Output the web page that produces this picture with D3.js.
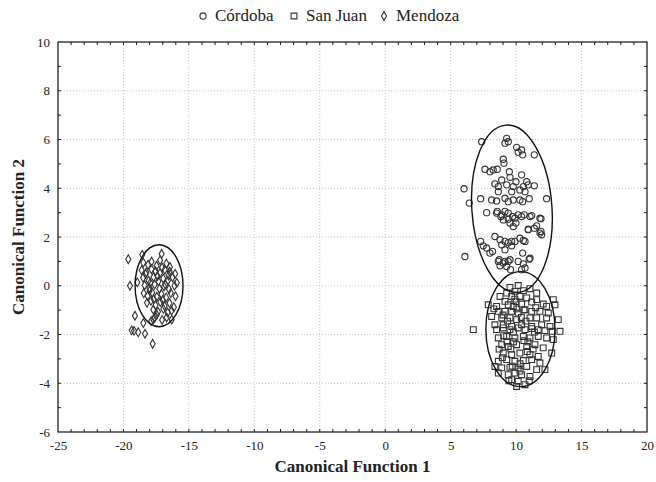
<!DOCTYPE html>
<html>
<head>
<meta charset="utf-8">
<script src="https://cdn.jsdelivr.net/npm/d3@7/dist/d3.min.js"></script>
<style>
  html, body { margin: 0; padding: 0; background: #fff; }
  svg { display: block; }
  text { font-family: "Liberation Serif", "Times New Roman", serif; }
</style>
</head>
<body>
<svg id="chart" width="656" height="482"></svg>
<script>
// Discriminant scores per province (Canonical Function 1, Canonical Function 2)
const cordoba = [
  [7.37,5.91],[9.28,6.05],[9.40,5.91],[9.15,5.85],[10.04,5.68],[10.42,5.57],[10.16,5.48],[10.50,5.37],[11.39,5.37],
  [9.02,5.19],[9.07,5.03],[7.62,4.78],[8.00,4.68],[8.25,4.75],[8.56,4.78],[9.48,4.68],[10.42,4.55],[8.90,4.34],
  [9.53,4.45],[9.99,4.27],[10.81,4.27],[10.93,4.14],[8.38,4.18],[8.64,4.07],[9.28,4.14],[9.78,4.07],[10.55,4.07],
  [11.39,4.10],[6.02,3.98],[8.64,3.86],[9.66,3.86],[10.29,3.93],[10.68,3.86],[7.29,3.57],[8.13,3.52],[8.51,3.48],
  [9.15,3.59],[9.40,3.45],[9.78,3.52],[10.29,3.52],[10.50,3.45],[11.00,3.57],[6.42,3.39],[12.33,3.57],[7.75,3.00],
  [8.56,3.05],[8.84,2.84],[9.40,2.98],[9.73,2.84],[10.16,2.91],[10.62,2.91],[11.06,2.84],[11.82,2.77],[9.02,2.70],
  [9.40,2.73],[9.53,2.57],[9.78,2.43],[9.99,2.57],[10.93,2.32],[11.39,2.36],[11.57,2.46],[11.90,2.23],[11.95,2.09],
  [8.38,2.02],[8.77,1.89],[7.29,1.82],[7.49,1.64],[7.75,1.55],[8.00,1.34],[8.20,1.41],[8.90,1.68],[9.40,1.77],
  [9.91,1.82],[10.29,1.95],[10.55,1.86],[9.66,1.64],[9.15,1.48],[6.09,1.20],[8.71,1.07],[9.15,1.00],[9.53,1.07],
  [8.77,0.82],[9.28,0.79],[10.16,1.00],[10.55,0.90],[11.00,1.09],[10.42,0.66],[10.68,0.73],[9.58,0.66],[10.50,1.34],
  [8.51,2.98],[8.90,2.91],[9.15,3.05],[9.91,2.77],[10.42,2.84],[11.19,2.88],[11.90,2.75],[9.15,1.82],[9.66,1.82],
  [10.68,1.82],[9.02,0.93],[9.40,1.00],[11.06,1.13],[11.82,2.16],[10.93,2.30],[8.64,1.00]
];

const sanJuan = [
  [9.53,-0.07],[10.16,0.01],[9.91,-0.23],[10.55,-0.20],[11.06,-0.12],[11.57,-0.30],[9.66,-0.44],[10.29,-0.44],
  [10.81,-0.50],[8.77,-0.44],[9.15,-0.64],[7.87,-0.78],[8.51,-0.85],[9.40,-0.78],[9.78,-0.85],[10.42,-0.75],
  [11.19,-0.67],[11.57,-0.57],[12.07,-0.75],[12.84,-0.57],[12.33,-0.85],[12.97,-0.78],[8.64,-1.05],[9.15,-1.05],
  [9.66,-1.05],[10.16,-1.12],[10.68,-0.98],[11.19,-1.05],[11.82,-1.05],[12.46,-1.12],[8.13,-1.26],[8.90,-1.32],
  [9.53,-1.32],[10.04,-1.39],[11.06,-1.32],[11.57,-1.32],[12.33,-1.32],[13.22,-1.39],[8.38,-1.60],[9.02,-1.60],
  [9.66,-1.67],[10.42,-1.60],[11.19,-1.67],[11.95,-1.60],[12.59,-1.67],[6.73,-1.80],[8.51,-1.80],[9.02,-1.73],
  [9.53,-1.80],[10.16,-1.73],[10.68,-1.80],[11.19,-1.76],[11.69,-1.80],[12.20,-1.84],[12.76,-1.87],[13.35,-1.87],
  [8.64,-2.14],[9.28,-2.08],[9.91,-2.14],[10.55,-2.08],[11.06,-2.14],[11.69,-2.08],[12.33,-2.14],[12.84,-2.21],
  [8.90,-2.42],[9.40,-2.49],[10.04,-2.42],[10.81,-2.49],[11.44,-2.42],[12.07,-2.55],[12.72,-2.76],[9.02,-2.76],
  [9.66,-2.83],[10.29,-2.76],[11.06,-2.83],[11.69,-2.90],[8.64,-3.10],[9.28,-3.03],[9.91,-3.10],[10.55,-3.07],
  [11.19,-3.03],[11.82,-3.17],[8.38,-3.31],[8.90,-3.37],[9.53,-3.35],[10.16,-3.37],[10.81,-3.31],[11.57,-3.44],
  [8.64,-3.58],[9.40,-3.65],[9.91,-3.58],[10.42,-3.65],[11.06,-3.72],[12.20,-3.44],[9.66,-3.85],[10.16,-3.92],
  [10.68,-4.06],[10.04,-4.13],[9.28,-0.30],[10.00,-0.65],[9.00,-1.20],[10.40,-1.30],[9.80,-1.90],[10.90,-2.30],
  [9.60,-2.60],[10.30,-3.20],[9.30,-2.30],[11.30,-2.60],[8.70,-2.60],[10.60,-1.00],[9.90,-0.55],[8.30,-0.95],
  [9.45,-3.90],[10.30,-3.50],[11.00,-3.90],[8.95,-2.95],[9.80,-2.30],[10.60,-2.25],[10.05,-0.95],[9.35,-1.45],
  [10.75,-1.45],[11.40,-1.90],[9.70,-3.30],[10.85,-2.70],[11.50,-0.90],[9.05,-2.05]
];

const mendoza = [
  [-19.63,1.09],[-18.56,1.27],[-17.08,1.31],[-19.50,0.00],[-18.94,0.14],[-19.12,-1.23],[-18.48,-1.53],
  [-19.37,-1.83],[-19.19,-1.85],[-18.87,-1.91],[-18.35,-1.97],[-17.77,-2.38],[-16.31,-1.39],[-17.72,-1.39],
  [-17.46,-1.19],[-18.48,0.95],[-18.12,0.86],[-17.85,0.99],[-17.47,0.82],[-16.72,0.91],[-16.45,0.77],
  [-17.20,1.05],[-18.61,0.64],[-18.25,0.55],[-17.86,0.68],[-17.55,0.60],[-17.21,0.52],[-16.84,0.66],
  [-16.47,0.58],[-16.05,0.49],[-18.50,0.33],[-18.08,0.21],[-17.70,0.36],[-17.33,0.18],[-16.96,0.30],
  [-16.60,0.22],[-16.25,0.35],[-15.92,0.12],[-18.38,0.02],[-18.02,-0.09],[-17.62,0.05],[-17.25,-0.12],
  [-16.90,-0.03],[-16.52,-0.14],[-16.10,0.00],[-18.45,-0.31],[-18.15,-0.42],[-17.80,-0.28],[-17.45,-0.45],
  [-17.10,-0.34],[-16.74,-0.48],[-16.38,-0.30],[-16.02,-0.43],[-18.20,-0.70],[-17.90,-0.62],[-17.55,-0.80],
  [-17.18,-0.67],[-16.85,-0.83],[-16.48,-0.71],[-16.15,-0.88],[-17.72,-0.98],[-17.36,-1.07],[-16.95,-0.95],
  [-16.62,-1.10],[-16.32,-1.02],[-17.60,-1.30],[-17.88,-1.45],[-17.05,-1.40],[-16.70,-1.30],[-18.30,0.48],
  [-17.95,0.12],[-17.40,0.40],[-17.05,0.75],[-16.80,0.05],[-17.68,-0.55],[-17.00,-0.58],[-16.55,0.42],
  [-18.00,-0.20]
];

// 95% confidence ellipses: centre, semi-axes (data units), tilt in degrees
const ellipseCentres = [[9.68, 3.16], [10.33, -1.78], [-17.28, 0.0]];
const ellipseRadii = [[3.06, 3.44], [2.64, 2.36], [1.83, 1.68]];
const ellipseTilt = [-4, 0, 0];

const groupNames = ["Córdoba", "San Juan", "Mendoza"];
const xTicks = [-25, -20, -15, -10, -5, 0, 5, 10, 15, 20];
const yTicks = [-6, -4, -2, 0, 2, 4, 6, 8, 10];

const W = 656, H = 482;
const margin = { top: 42, right: 9, bottom: 50, left: 58 };
const svg = d3.select("#chart");

const x = d3.scaleLinear().domain([-25, 20]).range([margin.left, W - margin.right]);
const y = d3.scaleLinear().domain([-6, 10]).range([H - margin.bottom, margin.top]);

// dotted grid
const grid = svg.append("g");
grid.selectAll("line.gx").data(xTicks.slice(1, -1)).join("line")
  .attr("x1", d => x(d)).attr("x2", d => x(d))
  .attr("y1", y(10)).attr("y2", y(-6))
  .attr("stroke", "#c4c4c4").attr("stroke-dasharray", "1,2").attr("stroke-width", 1);
grid.selectAll("line.gy").data(yTicks.slice(1, -1)).join("line")
  .attr("y1", d => y(d)).attr("y2", d => y(d))
  .attr("x1", x(-25)).attr("x2", x(20))
  .attr("stroke", "#c4c4c4").attr("stroke-dasharray", "1,2").attr("stroke-width", 1);

// axes: labels outside, inward ticks on all four sides
const fmt = d => String(d);
const xAxis = svg.append("g").attr("transform", `translate(0,${y(-6)})`)
  .call(d3.axisBottom(x).tickValues(xTicks).tickFormat(fmt).tickSize(0).tickPadding(9));
const yAxis = svg.append("g").attr("transform", `translate(${x(-25)},0)`)
  .call(d3.axisLeft(y).tickValues(yTicks).tickFormat(fmt).tickSize(0).tickPadding(8));
[xAxis, yAxis].forEach(a => {
  a.select(".domain").remove();
  a.selectAll("text").attr("font-family", "Liberation Serif, serif")
    .attr("font-size", 13).attr("fill", "#222");
});

const minorX = d3.range(-24, 20, 1);
const minorY = d3.range(-5, 10, 1);
const tickLen = 3;
const ticks = svg.append("g").attr("stroke", "#222").attr("stroke-width", 1);
minorX.forEach(v => {
  ticks.append("line").attr("x1", x(v)).attr("x2", x(v)).attr("y1", y(-6)).attr("y2", y(-6) - tickLen);
  ticks.append("line").attr("x1", x(v)).attr("x2", x(v)).attr("y1", y(10)).attr("y2", y(10) + tickLen);
});
minorY.forEach(v => {
  ticks.append("line").attr("y1", y(v)).attr("y2", y(v)).attr("x1", x(-25)).attr("x2", x(-25) + tickLen);
  ticks.append("line").attr("y1", y(v)).attr("y2", y(v)).attr("x1", x(20)).attr("x2", x(20) - tickLen);
});

// frame
svg.append("rect")
  .attr("x", x(-25)).attr("y", y(10))
  .attr("width", x(20) - x(-25)).attr("height", y(-6) - y(10))
  .attr("fill", "none").attr("stroke", "#111").attr("stroke-width", 1.2);

// markers
const symCircle = d3.symbol().type(d3.symbolCircle).size(30);
const symSquare = d3.symbol().type(d3.symbolSquare).size(34);
const symDiamond = d3.symbol().type(d3.symbolDiamond).size(22);
const groups = [
  { data: cordoba, sym: symCircle },
  { data: sanJuan, sym: symSquare },
  { data: mendoza, sym: symDiamond }
];
groups.forEach(g => {
  svg.append("g").selectAll("path").data(g.data).join("path")
    .attr("d", g.sym)
    .attr("transform", d => `translate(${x(d[0])},${y(d[1])})`)
    .attr("fill", "none").attr("stroke", "#333").attr("stroke-width", 1.1);
});

// confidence ellipses
svg.append("g").selectAll("ellipse").data(ellipseCentres).join("ellipse")
  .attr("cx", 0).attr("cy", 0)
  .attr("rx", (d, i) => x(d[0] + ellipseRadii[i][0]) - x(d[0]))
  .attr("ry", (d, i) => y(d[1]) - y(d[1] + ellipseRadii[i][1]))
  .attr("transform", (d, i) => `translate(${x(d[0])},${y(d[1])}) rotate(${ellipseTilt[i]})`)
  .attr("fill", "none").attr("stroke", "#111").attr("stroke-width", 1.4);

// axis titles
svg.append("text")
  .attr("x", (x(-25) + x(20)) / 2).attr("y", 472)
  .attr("text-anchor", "middle").attr("font-size", 17).attr("font-weight", "bold").attr("fill", "#222")
  .text("Canonical Function 1");
svg.append("text")
  .attr("transform", `translate(24,${(y(-6) + y(10)) / 2}) rotate(-90)`)
  .attr("text-anchor", "middle").attr("font-size", 17).attr("font-weight", "bold").attr("fill", "#222")
  .text("Canonical Function 2");

// legend
const legend = svg.append("g");
const legendSyms = [symCircle, symSquare, symDiamond];
const legendX = [203, 294, 384];
groupNames.forEach((name, i) => {
  legend.append("path").attr("d", legendSyms[i])
    .attr("transform", `translate(${legendX[i]},16)`)
    .attr("fill", "none").attr("stroke", "#333").attr("stroke-width", 1.1);
  legend.append("text").attr("x", legendX[i] + 12).attr("y", 21)
    .attr("font-size", 17).attr("fill", "#222").text(name);
});
</script>
</body>
</html>
